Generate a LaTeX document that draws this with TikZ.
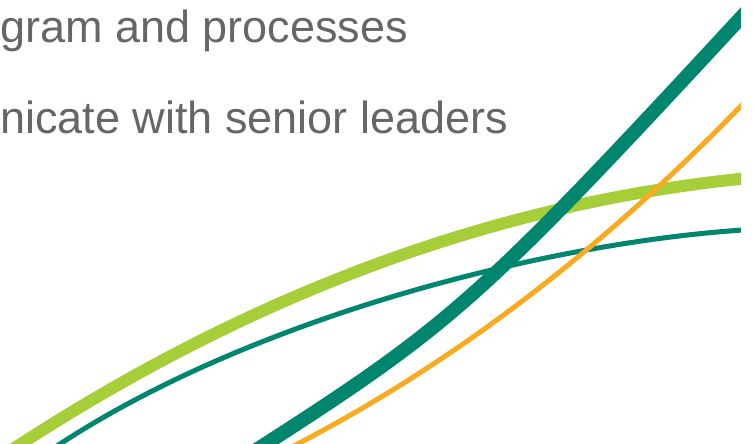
\documentclass[tikz,border=0pt]{standalone}
\usepackage{fontspec}
\setmainfont{Liberation Sans}
\definecolor{leaf}{RGB}{166,206,57}
\definecolor{teal}{RGB}{0,133,111}
\definecolor{amber}{RGB}{250,170,30}
\definecolor{slate}{RGB}{102,102,102}

\begin{document}
\begin{tikzpicture}
  [x=1pt,y=-1pt,
   line/.style={line width=#1,line cap=butt},
   txt/.style={anchor=base west,inner sep=0pt,text=slate,font=\fontsize{45}{50}\selectfont}]
  \useasboundingbox (0,0) rectangle (753,444);

  \node[txt] (l1) at (0,43)  {gram and processes};
  \node[txt] (l2) at (0,133) {nicate with senior leaders};

  \begin{scope}
    \clip (0,0) rectangle (741,444);
    \draw[line=12pt,leaf]  (10,451)  .. controls (254,291) and (504,200) .. (760,177);
    \draw[line=5pt,teal]   (48,452)  .. controls (248,316) and (560,239) .. (760,229);
    \draw[line=14pt,teal]  (250,454) .. controls (456,322) and (478,302) .. (760,-3);
    \draw[line=5pt,amber]  (282,452) .. controls (452,366) and (611,244) .. (760,86);
  \end{scope}
\end{tikzpicture}
\end{document}
